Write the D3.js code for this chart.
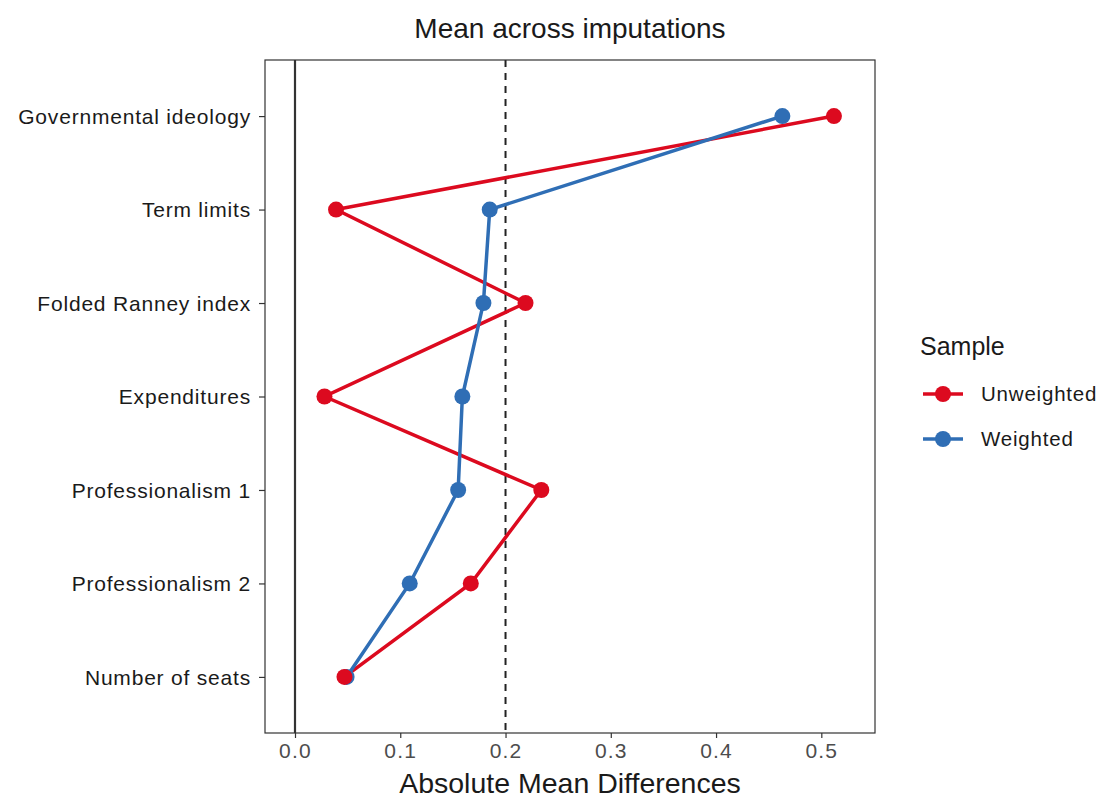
<!DOCTYPE html>
<html>
<head>
<meta charset="utf-8">
<script src="https://cdn.jsdelivr.net/npm/d3@7"></script>
<style>
  body { margin: 0; background: #fff; }
  svg { font-family: "Liberation Sans", Arial, sans-serif; }
</style>
</head>
<body>
<svg width="1105" height="800"></svg>
<script>
var categories = ["Governmental ideology", "Term limits", "Folded Ranney index",
  "Expenditures", "Professionalism 1", "Professionalism 2", "Number of seats"];
var unweighted = [0.512, 0.039, 0.219, 0.028, 0.234, 0.167, 0.047];
var weighted = [0.463, 0.185, 0.179, 0.159, 0.155, 0.109, 0.049];
var xTicks = [0, 0.1, 0.2, 0.3, 0.4, 0.5];
var seriesNames = ["Unweighted", "Weighted"];
var seriesColors = ["#dc0a1f", "#2f6eb5"];

var svg = d3.select("svg"),
    margin = {top: 60, right: 230, bottom: 67, left: 265},
    width = +svg.attr("width") - margin.left - margin.right,
    height = +svg.attr("height") - margin.top - margin.bottom,
    g = svg.append("g").attr("transform", "translate(" + margin.left + "," + margin.top + ")");

var x = d3.scaleLinear()
    .domain([-0.0285, 0.551])
    .range([0, width]);

var y = d3.scalePoint()
    .domain(categories)
    .range([0, height])
    .padding(0.6);

var color = d3.scaleOrdinal().domain(seriesNames).range(seriesColors);

var series = [
  {name: "Unweighted", values: unweighted},
  {name: "Weighted", values: weighted}
];

// reference lines
g.append("line")
    .attr("x1", x(0)).attr("x2", x(0))
    .attr("y1", 0).attr("y2", height)
    .attr("stroke", "#333").attr("stroke-width", 2.2);

g.append("line")
    .attr("x1", x(0.2)).attr("x2", x(0.2))
    .attr("y1", 0).attr("y2", height)
    .attr("stroke", "#222").attr("stroke-width", 2)
    .attr("stroke-dasharray", "7,6");

var line = d3.line()
    .x(function(d) { return x(d.v); })
    .y(function(d) { return y(d.c); });

function pts(s) {
  return s.values.map(function(v, i) { return {v: v, c: categories[i]}; });
}

g.selectAll(".series-line")
  .data(series)
  .enter().append("path")
    .attr("class", "series-line")
    .attr("fill", "none")
    .attr("stroke", function(d) { return color(d.name); })
    .attr("stroke-width", 3.5)
    .attr("d", function(d) { return line(pts(d)); });

// weighted points first so red points sit on top
series.slice().reverse().forEach(function(s) {
  g.append("g").selectAll("circle")
    .data(pts(s))
    .enter().append("circle")
      .attr("cx", function(d) { return x(d.v); })
      .attr("cy", function(d) { return y(d.c); })
      .attr("r", 8)
      .attr("fill", color(s.name));
});

// panel border
g.append("rect")
    .attr("width", width).attr("height", height)
    .attr("fill", "none").attr("stroke", "#333").attr("stroke-width", 1.2);

var xAxis = g.append("g")
    .attr("transform", "translate(0," + height + ")")
    .call(d3.axisBottom(x).tickValues(xTicks).tickFormat(d3.format(".1f")).tickSize(5).tickPadding(5));
var yAxis = g.append("g")
    .call(d3.axisLeft(y).tickSize(6).tickPadding(8));

[xAxis, yAxis].forEach(function(a) {
  a.select(".domain").remove();
  a.selectAll(".tick line").attr("stroke", "#333").attr("stroke-width", 1.2);
  a.selectAll(".tick text").attr("fill", "#4d4d4d").style("font-size", "21px")
    .style("letter-spacing", "1.2px").attr("font-family", null);
});
yAxis.selectAll(".tick text").attr("fill", "#1a1a1a").attr("dy", "0.35em")
    .style("letter-spacing", "0.8px").style("font-size", "21px");

svg.append("text")
    .attr("x", margin.left + width / 2)
    .attr("y", 38)
    .attr("text-anchor", "middle")
    .style("font-size", "28px")
    .attr("fill", "#1a1a1a")
    .text("Mean across imputations");

svg.append("text")
    .attr("x", margin.left + width / 2)
    .attr("y", 793)
    .attr("text-anchor", "middle")
    .style("font-size", "28.5px")
    .attr("fill", "#1a1a1a")
    .text("Absolute Mean Differences");

var legend = svg.append("g").attr("transform", "translate(919,0)");
legend.append("text")
    .attr("x", 1).attr("y", 355)
    .style("font-size", "25px")
    .attr("fill", "#1a1a1a")
    .text("Sample");

var item = legend.selectAll(".item")
  .data(seriesNames)
  .enter().append("g")
    .attr("class", "item")
    .attr("transform", function(d, i) { return "translate(0," + (394 + i * 45) + ")"; });

item.append("line")
    .attr("x1", 4).attr("x2", 44)
    .attr("stroke", color).attr("stroke-width", 3.5);
item.append("circle")
    .attr("cx", 24).attr("r", 8)
    .attr("fill", color);
item.append("text")
    .attr("x", 62).attr("dy", "0.35em")
    .style("font-size", "20.5px")
    .style("letter-spacing", "0.8px")
    .attr("fill", "#1a1a1a")
    .text(function(d) { return d; });
</script>
</body>
</html>
